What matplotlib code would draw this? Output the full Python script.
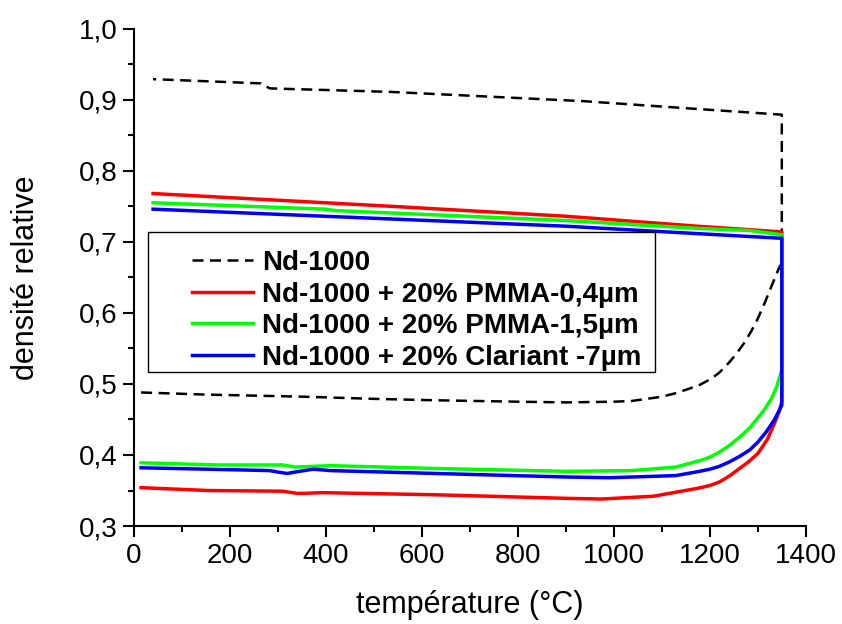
import matplotlib
matplotlib.use('Agg')
import matplotlib.pyplot as plt
from matplotlib.ticker import MultipleLocator, FuncFormatter
from matplotlib.patches import Rectangle

plt.rcParams['font.family'] = ['Liberation Sans', 'DejaVu Sans']

# Nd-1000 : chauffage puis refroidissement
nd_heat_x = [15, 150, 356, 500, 628, 800, 901, 1000, 1037, 1100, 1129, 1160, 1180, 1202, 1220, 1240, 1256, 1272, 1287, 1300, 1315, 1330, 1344, 1350]
nd_heat_y = [0.488, 0.485, 0.482, 0.479, 0.477, 0.475, 0.474, 0.475, 0.476, 0.482, 0.487, 0.494, 0.499, 0.507, 0.516, 0.530, 0.543, 0.558, 0.575, 0.592, 0.615, 0.640, 0.663, 0.670]
nd_cool_x = [1350, 1174, 937, 537, 283, 265, 40]
nd_cool_y = [0.879, 0.887, 0.898, 0.911, 0.916, 0.923, 0.929]

# Nd-1000 + 20% PMMA-0,4um
r_heat_x = [15, 155, 310, 340, 356, 392, 628, 901, 974, 1083, 1174, 1200, 1220, 1240, 1260, 1280, 1300, 1320, 1335, 1345, 1350]
r_heat_y = [0.354, 0.350, 0.349, 0.346, 0.346, 0.347, 0.344, 0.339, 0.338, 0.342, 0.353, 0.357, 0.362, 0.370, 0.380, 0.390, 0.402, 0.422, 0.445, 0.462, 0.475]
r_cool_x = [1350, 1174, 901, 537, 40]
r_cool_y = [0.714, 0.722, 0.736, 0.750, 0.768]

# Nd-1000 + 20% PMMA-1,5um
g_heat_x = [15, 173, 310, 337, 410, 628, 901, 1037, 1129, 1179, 1200, 1220, 1240, 1262, 1283, 1300, 1315, 1329, 1340, 1350]
g_heat_y = [0.389, 0.386, 0.386, 0.383, 0.385, 0.381, 0.377, 0.378, 0.383, 0.392, 0.397, 0.404, 0.413, 0.425, 0.438, 0.452, 0.465, 0.480, 0.497, 0.520]
g_cool_x = [1350, 1283, 1174, 901, 420, 400, 40]
g_cool_y = [0.710, 0.716, 0.719, 0.730, 0.744, 0.746, 0.755]

# Nd-1000 + 20% Clariant -7um
b_heat_x = [15, 219, 283, 300, 319, 345, 374, 410, 628, 901, 992, 1129, 1179, 1200, 1220, 1240, 1262, 1283, 1300, 1317, 1335, 1347, 1350]
b_heat_y = [0.382, 0.379, 0.378, 0.376, 0.374, 0.377, 0.380, 0.378, 0.374, 0.369, 0.368, 0.371, 0.377, 0.380, 0.384, 0.390, 0.398, 0.407, 0.418, 0.432, 0.450, 0.466, 0.470]
b_cool_x = [1350, 1083, 901, 40]
b_cool_y = [0.705, 0.715, 0.722, 0.746]

labels = ['Nd-1000', 'Nd-1000 + 20% PMMA-0,4µm', 'Nd-1000 + 20% PMMA-1,5µm', 'Nd-1000 + 20% Clariant -7µm']

fig = plt.figure(figsize=(8.42, 6.24), dpi=100)
ax = fig.add_axes([0.159, 0.157, 0.798, 0.797])

ax.plot(nd_heat_x + nd_cool_x, nd_heat_y + nd_cool_y, color='black', lw=1.8, dashes=(4.4, 2.6), label=labels[0])
ax.plot(r_heat_x + r_cool_x, r_heat_y + r_cool_y, color='#ff0000', lw=2.5, label=labels[1])
ax.plot(g_heat_x + g_cool_x, g_heat_y + g_cool_y, color='#00ff00', lw=2.5, label=labels[2])
ax.plot(b_heat_x + b_cool_x, b_heat_y + b_cool_y, color='#0000ff', lw=2.5, label=labels[3])

ax.set_xlim(0, 1400)
ax.set_ylim(0.3, 1.0)
ax.xaxis.set_major_locator(MultipleLocator(200))
ax.xaxis.set_minor_locator(MultipleLocator(100))
ax.yaxis.set_major_locator(MultipleLocator(0.1))
ax.yaxis.set_minor_locator(MultipleLocator(0.05))
ax.yaxis.set_major_formatter(FuncFormatter(lambda v, p: ('%.1f' % v).replace('.', ',')))

ax.spines['top'].set_visible(False)
ax.spines['right'].set_visible(False)
ax.spines['left'].set_linewidth(1.5)
ax.spines['bottom'].set_linewidth(1.5)
ax.tick_params(which='major', direction='out', length=8, width=1.5, labelsize=20, pad=4)
ax.tick_params(which='minor', direction='out', length=4, width=1.5)

ax.set_xlabel('température (°C)', fontsize=22, labelpad=15)
ax.set_ylabel('densité relative', fontsize=22, labelpad=27)

# cadre de la légende
ax.add_patch(Rectangle((0.021, 0.31), 0.754, 0.2815, transform=ax.transAxes,
                       facecolor='white', edgecolor='black', lw=1, zorder=5))
leg = ax.legend(loc='upper left', bbox_to_anchor=(0.0863, 0.555), frameon=False,
                borderpad=0, borderaxespad=0, handlelength=2.2, handletextpad=0.32,
                labelspacing=0.2, prop={'weight': 'bold', 'size': 20})
leg.set_zorder(6)

fig.savefig('out.png', dpi=100)
